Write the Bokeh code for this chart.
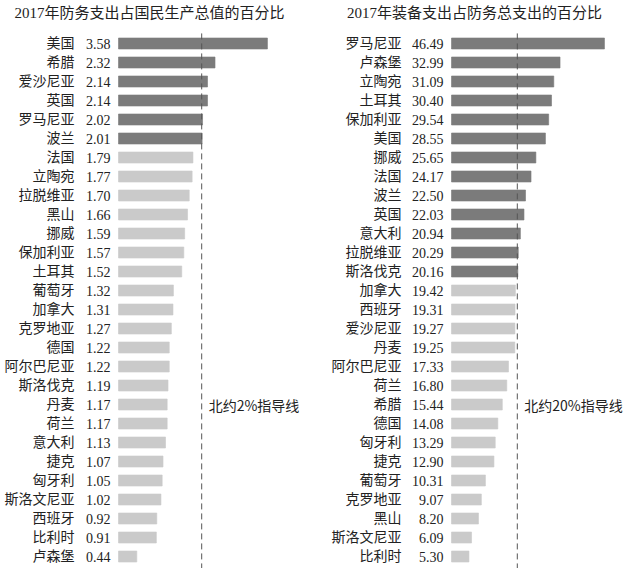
from bokeh.plotting import figure
from bokeh.layouts import row
from bokeh.models import Range1d, Label, ColumnDataSource
from bokeh.core.properties import value
from bokeh.embed import file_html
from bokeh.resources import INLINE

# ---- data ----
left_title = "2017年防务支出占国民生产总值的百分比"
left_countries = ["美国", "希腊", "爱沙尼亚", "英国", "罗马尼亚", "波兰", "法国", "立陶宛",
                  "拉脱维亚", "黑山", "挪威", "保加利亚", "土耳其", "葡萄牙", "加拿大", "克罗地亚",
                  "德国", "阿尔巴尼亚", "斯洛伐克", "丹麦", "荷兰", "意大利", "捷克", "匈牙利",
                  "斯洛文尼亚", "西班牙", "比利时", "卢森堡"]
left_values = [3.58, 2.32, 2.14, 2.14, 2.02, 2.01, 1.79, 1.77, 1.70, 1.66, 1.59, 1.57, 1.52,
               1.32, 1.31, 1.27, 1.22, 1.22, 1.19, 1.17, 1.17, 1.13, 1.07, 1.05, 1.02, 0.92,
               0.91, 0.44]
left_guide = 2.0
left_guide_label = "北约2%指导线"

right_title = "2017年装备支出占防务总支出的百分比"
right_countries = ["罗马尼亚", "卢森堡", "立陶宛", "土耳其", "保加利亚", "美国", "挪威", "法国",
                   "波兰", "英国", "意大利", "拉脱维亚", "斯洛伐克", "加拿大", "西班牙", "爱沙尼亚",
                   "丹麦", "阿尔巴尼亚", "荷兰", "希腊", "德国", "匈牙利", "捷克", "葡萄牙",
                   "克罗地亚", "黑山", "斯洛文尼亚", "比利时"]
right_values = [46.49, 32.99, 31.09, 30.40, 29.54, 28.55, 25.65, 24.17, 22.50, 22.03, 20.94,
                20.29, 20.16, 19.42, 19.31, 19.27, 19.25, 17.33, 16.80, 15.44, 14.08, 13.29,
                12.90, 10.31, 9.07, 8.20, 6.09, 5.30]
right_guide = 20.0
right_guide_label = "北约20%指导线"

DARK = "#7b7b7b"
LIGHT = "#cacaca"
LABEL_FONT = "'Liberation Serif', 'Noto Sans CJK SC', serif"
NOTE_FONT = "'Noto Sans CJK SC', sans-serif"

H = 568
ROW = 19.0
FIRST = 43.0
y_top = -FIRST / ROW
y_bot = (H - FIRST) / ROW


def panel(title, countries, values, guide, guide_label, width, zero_px, px_per_unit,
          title_cx, name_off, val_off):
    x0 = -zero_px / px_per_unit
    x1 = (width - zero_px) / px_per_unit
    p = figure(width=width, height=H, output_backend="svg", toolbar_location=None,
               x_range=Range1d(x0, x1), y_range=Range1d(y_bot, y_top),
               min_border=0, outline_line_color=None)
    p.axis.visible = False
    p.grid.visible = False
    ys = list(range(len(countries)))
    colors = [DARK if v >= guide else LIGHT for v in values]
    src = ColumnDataSource(dict(y=ys, v=values, name=countries,
                                vtxt=["%.2f" % v for v in values], color=colors,
                                zero=[0] * len(values)))
    p.hbar(y="y", left=0, right="v", height=0.58, fill_color="color",
           line_color="color", line_alpha=0.6, source=src)
    p.text(x="zero", y="y", text="name", source=src, text_align="right",
           text_baseline="middle", x_offset=name_off, text_font=value(LABEL_FONT),
           text_font_size="14px", text_color="#222222")
    p.text(x="zero", y="y", text="vtxt", source=src, text_align="right",
           text_baseline="middle", x_offset=val_off, text_font=value(LABEL_FONT),
           text_font_size="14px", text_color="#222222")
    p.segment(x0=[guide], y0=[-0.53], x1=[guide], y1=[y_bot], line_color="#555555",
              line_width=1, line_dash="6 4")
    p.text(x=[guide], y=[19], text=[guide_label], x_offset=7, text_align="left",
           text_baseline="middle", text_font=value(NOTE_FONT), text_font_size="14px",
           text_color="#222222")
    p.add_layout(Label(x=title_cx, y=H - 12, x_units="screen", y_units="screen",
                       text=title, text_align="center", text_baseline="middle",
                       text_font=LABEL_FONT, text_font_size="15px",
                       text_color="#222222"))
    return p


p1 = panel(left_title, left_countries, left_values, left_guide, left_guide_label,
           width=313, zero_px=118, px_per_unit=41.6, title_cx=149, name_off=-44,
           val_off=-8)
p2 = panel(right_title, right_countries, right_values, right_guide, right_guide_label,
           width=314, zero_px=138, px_per_unit=3.29, title_cx=161, name_off=-50,
           val_off=-8)

layout = row(p1, p2, spacing=0)
open("out.html", "w").write(file_html(layout, INLINE))
